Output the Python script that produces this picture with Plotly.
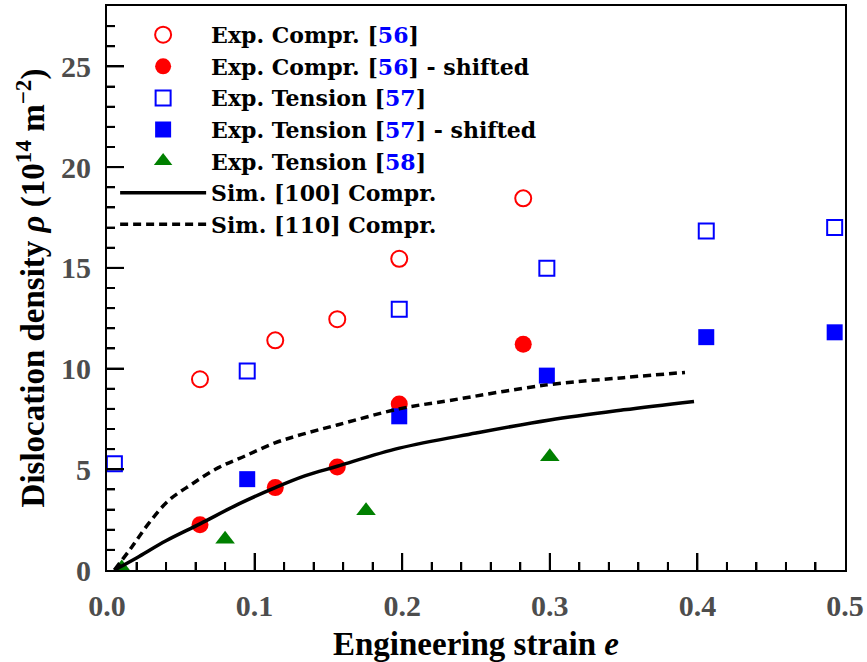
import plotly.graph_objects as go

# ---- data ----
exp_compr_x = [0.063, 0.114, 0.156, 0.198, 0.282]
exp_compr_y = [9.47, 11.4, 12.45, 15.45, 18.45]

exp_compr_shift_x = [0.063, 0.114, 0.156, 0.198, 0.282]
exp_compr_shift_y = [2.25, 4.09, 5.11, 8.24, 11.21]

exp_tens_x = [0.005, 0.095, 0.198, 0.298, 0.406, 0.493]
exp_tens_y = [5.28, 9.88, 12.94, 14.98, 16.83, 17.0]

exp_tens_shift_x = [0.095, 0.198, 0.298, 0.406, 0.493]
exp_tens_shift_y = [4.51, 7.63, 9.65, 11.56, 11.8]

exp_tens58_x = [0.01, 0.080, 0.1755, 0.300]
exp_tens58_y = [0.1, 1.53, 2.94, 5.62]

sim100_x = [0.005, 0.02, 0.04, 0.063, 0.089, 0.114, 0.134, 0.156, 0.198, 0.25, 0.3, 0.35, 0.3977]
sim100_y = [0.0, 0.6, 1.45, 2.29, 3.27, 4.09, 4.67, 5.15, 6.05, 6.8, 7.45, 7.95, 8.37]

sim110_x = [0.005, 0.0167, 0.028, 0.0416, 0.0574, 0.0755, 0.0935, 0.1138, 0.132, 0.156,
            0.198, 0.2324, 0.298, 0.35, 0.3916]
sim110_y = [0.0, 1.13, 2.29, 3.44, 4.26, 5.08, 5.66, 6.31, 6.73, 7.2,
            8.0, 8.42, 9.19, 9.55, 9.81]

x_range = [0, 0.5]
y_range = [0, 28]
x_major_ticks = [0.1, 0.2, 0.3, 0.4]
x_minor_ticks = [0.02, 0.04, 0.06, 0.08, 0.12, 0.14, 0.16, 0.18, 0.22, 0.24, 0.26, 0.28,
                 0.32, 0.34, 0.36, 0.38, 0.42, 0.44, 0.46, 0.48]
y_major_ticks = [5, 10, 15, 20, 25]
y_minor_ticks = [1, 2, 3, 4, 6, 7, 8, 9, 11, 12, 13, 14, 16, 17, 18, 19, 21, 22, 23, 24, 26, 27]

FONT = "Liberation Serif"
LEG_FONT = "DejaVu Serif"
RED = "#ff0000"
BLUE = "#0000ff"
GREEN = "#008000"

def ref(n):
    return "[<span style='color:#0000ff'>%s</span>]" % n

fig = go.Figure()
fig.add_trace(go.Scatter(x=exp_compr_x, y=exp_compr_y, mode="markers",
                         name="<b>Exp. Compr. " + ref("56") + "</b>",
                         marker=dict(symbol="circle-open", size=16, color=RED, line=dict(width=2, color=RED))))
fig.add_trace(go.Scatter(x=exp_compr_shift_x, y=exp_compr_shift_y, mode="markers",
                         name="<b>Exp. Compr. " + ref("56") + " - shifted</b>",
                         marker=dict(symbol="circle", size=17, color=RED)))
fig.add_trace(go.Scatter(x=exp_tens_x, y=exp_tens_y, mode="markers",
                         name="<b>Exp. Tension " + ref("57") + "</b>",
                         marker=dict(symbol="square-open", size=15, color=BLUE, line=dict(width=2, color=BLUE))))
fig.add_trace(go.Scatter(x=exp_tens_shift_x, y=exp_tens_shift_y, mode="markers",
                         name="<b>Exp. Tension " + ref("57") + " - shifted</b>",
                         marker=dict(symbol="square", size=16, color=BLUE)))
fig.add_trace(go.Scatter(x=exp_tens58_x, y=exp_tens58_y, mode="markers",
                         name="<b>Exp. Tension " + ref("58") + "</b>",
                         marker=dict(symbol="triangle-up", size=17, color=GREEN)))
fig.add_trace(go.Scatter(x=sim100_x, y=sim100_y, mode="lines", line_shape="spline",
                         name="<b>Sim. [100] Compr.</b>",
                         line=dict(color="black", width=3.5)))
fig.add_trace(go.Scatter(x=sim110_x, y=sim110_y, mode="lines", line_shape="spline",
                         name="<b>Sim. [110] Compr.</b>",
                         line=dict(color="black", width=3.5, dash="8px,5px")))

axis_common = dict(
    showline=True, linecolor="black", linewidth=2, mirror=True,
    ticks="inside", ticklen=17, tickwidth=2, tickcolor="black",
    automargin=False,
    tickfont=dict(family=FONT, size=30, color="#4d4d4d", weight="bold"),
    ticklabelstandoff=8,
)

fig.update_xaxes(range=x_range, tickmode="linear", tick0=0, dtick=0.1, tickformat=".1f",
                 minor=dict(dtick=0.02, ticks="inside", ticklen=8, tickwidth=2, tickcolor="black"),
                 title=dict(text="<b>Engineering strain <i>e</i></b>",
                            font=dict(family=FONT, size=33, color="black"), standoff=14),
                 **axis_common)
fig.update_yaxes(range=y_range, tickmode="linear", tick0=0, dtick=5,
                 minor=dict(dtick=1, ticks="inside", ticklen=8, tickwidth=2, tickcolor="black"),
                 title=dict(text="<b>Dislocation density <i>ρ</i> (10<sup>14</sup> m<sup>−2</sup>)</b>",
                            font=dict(family=FONT, size=33, color="black"), standoff=6),
                 **axis_common)

# tick marks on the left and bottom spines (inside), placed through the axes' own scales
PLOT_W, PLOT_H = 738.0, 564.0
tick_line = dict(color="black", width=2)
shapes = []
for v in x_major_ticks:
    shapes.append(dict(type="line", xref="x", yref="paper", x0=v, x1=v, y0=0, y1=17 / PLOT_H,
                       line=tick_line, layer="above"))
for v in x_minor_ticks:
    shapes.append(dict(type="line", xref="x", yref="paper", x0=v, x1=v, y0=0, y1=8 / PLOT_H,
                       line=tick_line, layer="above"))
for v in y_major_ticks:
    shapes.append(dict(type="line", xref="paper", yref="y", x0=0, x1=17 / PLOT_W, y0=v, y1=v,
                       line=tick_line, layer="above"))
for v in y_minor_ticks:
    shapes.append(dict(type="line", xref="paper", yref="y", x0=0, x1=8 / PLOT_W, y0=v, y1=v,
                       line=tick_line, layer="above"))

fig.update_layout(
    width=867, height=662,
    margin=dict(l=107, r=22, t=6, b=92),
    paper_bgcolor="white", plot_bgcolor="white",
    font=dict(family=FONT, color="black"),
    showlegend=True,
    shapes=shapes,
    legend=dict(x=0.011, y=0.986, xanchor="left", yanchor="top",
                bgcolor="rgba(0,0,0,0)", borderwidth=0,
                font=dict(family=LEG_FONT, size=22, color="black"),
                itemwidth=86, tracegroupgap=0),
)

fig.write_html("out.html", post_script="document.body.style.margin='0px';",
               config={"displayModeBar": False})
